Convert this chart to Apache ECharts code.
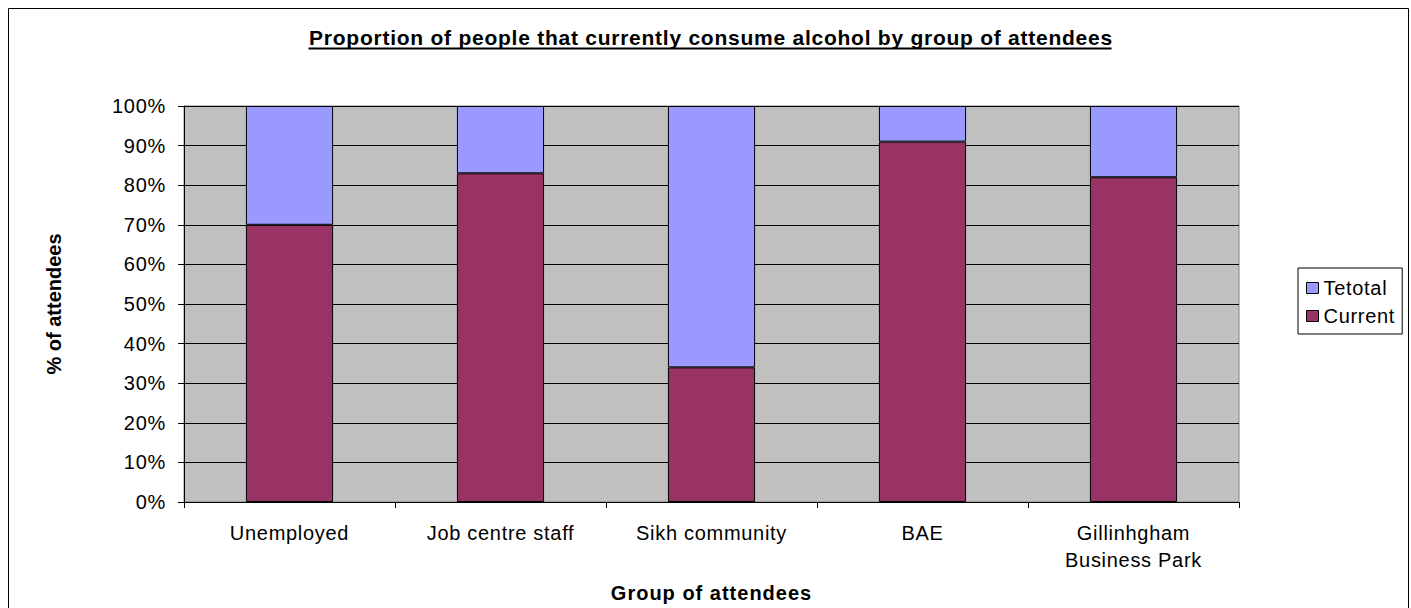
<!DOCTYPE html>
<html><head><meta charset="utf-8">
<script src="https://cdn.jsdelivr.net/npm/echarts@6/dist/echarts.min.js"></script>
<style>html,body{margin:0;padding:0;background:#fff;overflow:hidden}#c{width:1411px;height:608px}</style>
</head><body><div id="c"></div>
<script>
const categories = ['Unemployed', 'Job centre staff', 'Sikh community', 'BAE', 'Gillinhgham\nBusiness Park'];
const currentValues = [70, 83, 34, 91, 82];
const tetotalValues = [30, 17, 66, 9, 18];
const yTickLabels = ['0%','10%','20%','30%','40%','50%','60%','70%','80%','90%','100%'];
const titleText = 'Proportion of people that currently consume alcohol by group of attendees';

const FONT = '"Liberation Sans", Arial, sans-serif';
const chart = echarts.init(document.getElementById('c'), null, { renderer: 'svg', width: 1411, height: 608 });

const TITLE_LS = 0.75;
const mc = document.createElement('canvas').getContext('2d');
mc.font = 'bold 21px "Liberation Sans"';
const tw = mc.measureText(titleText).width + TITLE_LS * (titleText.length - 1);
const tcx = 710;

chart.setOption({
  backgroundColor: '#fff',
  animation: false,
  title: {
    text: titleText,
    left: tcx - 4, top: 22,
    textAlign: 'center',
    textStyle: { fontFamily: FONT, fontSize: 21, fontWeight: 'bold', color: '#000' }
  },
  graphic: [
    { type: 'rect', shape: { x: 8.5, y: 8.5, width: 1400, height: 620 }, style: { fill: null, stroke: '#000', lineWidth: 1 }, silent: true },
    { type: 'line', shape: { x1: tcx - tw / 2, y1: 48.5, x2: tcx + tw / 2, y2: 48.5 }, style: { stroke: '#000', lineWidth: 2 }, silent: true }
  ],
  legend: {
    orient: 'vertical',
    left: 1298, top: 268,
    data: ['Tetotal', 'Current'],
    icon: 'rect',
    itemWidth: 12, itemHeight: 11,
    itemGap: 8,
    padding: [10, 12, 8, 8],
    borderColor: '#000', borderWidth: 1,
    itemStyle: { borderColor: '#000', borderWidth: 1 },
    textStyle: { fontFamily: FONT, fontSize: 20, color: '#000' }
  },
  grid: {
    left: 184, top: 106, width: 1055, height: 400,
    show: true, backgroundColor: '#C0C0C0', borderColor: '#808080', borderWidth: 1,
    containLabel: false
  },
  xAxis: {
    type: 'category',
    data: categories,
    name: 'Group of attendees',
    nameLocation: 'middle',
    nameGap: 81,
    nameTextStyle: { fontFamily: FONT, fontSize: 20, fontWeight: 'bold', color: '#000' },
    axisLine: { lineStyle: { color: '#000', width: 1 } },
    axisTick: { show: true, length: 6, lineStyle: { color: '#000' } },
    axisLabel: { fontFamily: FONT, fontSize: 20, color: '#000', margin: 17, lineHeight: 27, interval: 0 }
  },
  yAxis: {
    type: 'value',
    min: 0, max: 100, interval: 10,
    name: '% of attendees',
    nameLocation: 'middle',
    nameGap: 120,
    nameRotate: 90,
    nameTextStyle: { fontFamily: FONT, fontSize: 20, fontWeight: 'bold', color: '#000' },
    axisLine: { show: true, lineStyle: { color: '#000', width: 1 } },
    axisTick: { show: true, length: 6, lineStyle: { color: '#000' } },
    axisLabel: { fontFamily: FONT, fontSize: 20, color: '#000', margin: 18, formatter: v => yTickLabels[Math.round(v / 10)] },
    splitLine: { show: true, lineStyle: { color: '#000', width: 1 } }
  },
  series: [
    { name: 'Current', type: 'bar', stack: 's', data: currentValues, barWidth: '41.3%',
      itemStyle: { color: '#993366', borderColor: '#000', borderWidth: 1 } },
    { name: 'Tetotal', type: 'bar', stack: 's', data: tetotalValues, barWidth: '41.3%',
      itemStyle: { color: '#9999FF', borderColor: '#000', borderWidth: 1 } }
  ]
});

function applySpacing() {
  document.querySelectorAll('#c text').forEach(el => {
    const cs = getComputedStyle(el);
    const bold = cs.fontWeight === 'bold' || parseInt(cs.fontWeight, 10) >= 600;
    const size = parseFloat(cs.fontSize);
    const txt = el.textContent || '';
    let ls = 0.7;
    if (bold && size >= 21) ls = TITLE_LS;
    else if (bold && txt.indexOf('%') === 0) ls = 0;
    else if (bold) ls = 1.0;
    el.setAttribute('letter-spacing', ls + 'px');
  });
}
chart.on('finished', applySpacing);
applySpacing();
setTimeout(applySpacing, 50);
</script></body></html>
